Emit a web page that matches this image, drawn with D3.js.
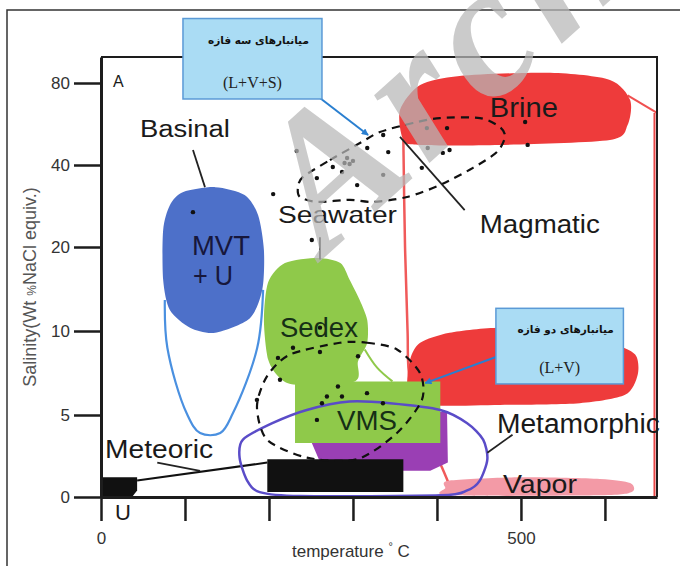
<!DOCTYPE html>
<html>
<head>
<meta charset="utf-8">
<script src="https://cdn.jsdelivr.net/npm/d3@7"></script>
<style>
  body { margin: 0; background: #fff; }
  svg { display: block; }
</style>
</head>
<body>
<svg id="chart" width="680" height="566"></svg>
<script>
// ---- axis ticks ----
const yTicks = [0, 5, 10, 20, 40, 80]
const xTicks = [0, 100, 200, 300, 400, 500, 600]
const xLabelled = [0, 500]

// ---- fluid fields, [temperature °C, salinity wt%] ----
const brine = [[380, 79], [427, 86.8], [535, 89.8], [606, 83], [630, 71.7], [627, 59.5], [606, 52.2], [475, 49.8], [380, 49.8], [360, 52.2], [356, 66.8]]
const brineTail = [[627, 74], [662, 65.4]]
const redBoundary = [[360, 52], [362, 20], [365, 10], [368, 7], [395, 3], [406, 1.8], [419, 0.2]]
const redRight = [[659, 65.4], [659, 0]]
const twoPhaseRed = [[368, 8.3], [380, 9.3], [415, 9.9], [475, 10.4], [546, 9.9], [606, 9.3], [636, 8.6], [639, 7.4], [624, 6.2], [570, 5.7], [475, 5.6], [380, 5.6], [365, 6.5]]
const vapor = [[415, 1.0], [499, 1.2], [594, 1.1], [630, 0.85], [632, 0.3], [594, 0.1], [415, 0.1], [410, 0.55]]
const mvt = [[98, 33.4], [136, 34.6], [171, 32.7], [187, 27.8], [194, 19.6], [192, 14.9], [177, 11.5], [136, 9.9], [106, 10.4], [82, 12.5], [74, 16.1], [74, 24.1], [82, 30.2]]
const basinOutline = [[76, 13.7], [79, 9.0], [102, 5.1], [118, 3.9], [142, 3.9], [157, 5.1], [186, 9.0], [193, 14.9]]
const purple = [[251, 3.3], [380, 3.3], [380, 5.2], [412, 5.2], [413, 2.1], [392, 1.6], [290, 1.6], [261, 2.1]]
const sedex = [[199, 15.8], [219, 18.1], [258, 18.7], [285, 18.1], [296, 16.1], [308, 13.7], [317, 11.3], [317, 9.3], [306, 8.2], [302, 7.0], [233, 6.8], [213, 7.2], [199, 8.3], [194, 11.3]]
const vms = [[231, 7.0], [404, 7.0], [404, 3.3], [231, 3.3]]
const sedexEdge = [[314, 8.9], [329, 7.8], [347, 7.0]]
const meteoricBar = [[198, 2.3], [360, 2.3], [360, 0.3], [198, 0.3]]
const meteoricLeft = [[0, 1.2], [43, 1.2], [43, 0.4], [37, 0], [0, 0]]
const meteoricLine = [[43, 1.0], [198, 2.1]]
const metamorphic = [[169, 3.5], [204, 4.5], [245, 5.3], [296, 5.8], [344, 5.7], [404, 5.3], [436, 4.5], [455, 3.5], [460, 2.3], [451, 1.0], [436, 0.4], [404, 0.1], [237, 0.06], [189, 0.3], [174, 1.0], [165, 2.4]]

// ---- inclusion groups (dashed) ----
const threePhase = [[240.5, 37.1], [272.6, 42.4], [308.3, 50.7], [332.1, 56.1], [371.4, 60.5], [403.6, 62.9], [451.2, 62.9], [475, 58.5], [481, 53.7], [471.4, 46.3], [442.9, 39.3], [403.6, 35.1], [364.3, 32.2], [323.8, 31.0], [296.4, 31.5], [257.1, 31.0], [236.9, 32.2], [234.5, 34.6]]
const twoPhase = [[284.5, 9.3], [316.7, 9.3], [352.4, 8.9], [379.8, 7.5], [382.1, 5.9], [352.4, 3.9], [304.8, 2.3], [245.2, 2.4], [197.6, 3.5], [185.7, 5.5], [197.6, 7.3], [225, 8.6]]

// ---- measured inclusions ----
const dotsUpper = [[233, 46.8], [205, 32.9], [257, 36.8], [276, 39.5], [287, 38.3], [293, 43.4], [296, 40.5], [300, 42], [290, 41], [317, 48.3], [336, 54.6], [342, 46.3], [305, 35.1], [336, 37.6], [251, 21.7], [388, 58.0], [412, 58.0], [505, 61.0], [508, 49.8], [389, 48.3], [407, 45.9], [415, 47.3], [382, 39.3], [109.5, 28.5]]
const dotsLower = [[228.6, 9.0], [260.7, 8.75], [210.7, 8.4], [306, 8.5], [213.1, 7.1], [185.7, 5.9], [282.1, 6.7], [269, 6.1], [286.9, 6.1], [263.1, 5.7], [316.7, 6.3], [335.7, 5.7], [257.1, 4.7], [260.7, 10.4]]

// ---- pointer lines ----
const pointers = [
  [[356, 53.7], [433, 29.0]],      // Magmatic
  [[109.5, 47.3], [123.8, 34.6]],  // Basinal
  [[260.7, 22.4], [260.7, 18.5]],  // Seawater
  [[490, 3.8], [460, 2.7]],        // Metamorphic
  [[67, 2.1], [118, 1.6]],         // Meteoric
]

const labels = [
  { text: 'A', t: 14.3, s: 78, size: 16 },
  { text: 'Basinal', t: 46.4, s: 53.7, size: 23, w: 90 },
  { text: 'MVT', t: 108.3, s: 19, size: 28, w: 58, color: '#17173c' },
  { text: '+ U', t: 109.5, s: 15.5, size: 28, w: 40, color: '#17173c' },
  { text: 'Seawater', t: 210.7, s: 25.9, size: 24, w: 119 },
  { text: 'Brine', t: 463, s: 63.4, size: 27, w: 68 },
  { text: 'Magmatic', t: 451, s: 23.4, size: 25, w: 120 },
  { text: 'Sedex', t: 213, s: 9.64, size: 27, w: 78, color: '#163016' },
  { text: 'VMS', t: 281, s: 4.09, size: 28, w: 60, color: '#163016' },
  { text: 'Metamorphic', t: 471.4, s: 3.9, size: 27, w: 163 },
  { text: 'Vapor', t: 478.6, s: 0.25, size: 26, w: 74 },
  { text: 'Meteoric', t: 4.8, s: 2.4, size: 26, w: 108 },
]

const boxes = [
  { fa: 'میانبارهای سه فازه', en: '(L+V+S)', t0: 97.6, t1: 263.1, s0: 142, s1: 72.2, from: [260.7, 72.7], to: [318, 54.6] },
  { fa: 'میانبارهای دو  فازه', en: '(L+V)', t0: 470.2, t1: 622, s0: 12.7, s1: 6.85, from: [470.2, 8.45], to: [386, 6.9] },
]

// ---- scales ----
const x = d3.scaleLinear().domain([0, 662]).range([101, 657])
const y = d3.scaleLinear().domain([0, 5, 10, 20, 40, 80, 105]).range([497, 415, 331, 247, 165, 83, 57])

const svg = d3.select('#chart')
const font = '"Liberation Sans", Arial, sans-serif'

svg.append('defs').append('marker')
  .attr('id', 'arrow')
  .attr('viewBox', '0 0 10 10')
  .attr('refX', 9).attr('refY', 5)
  .attr('markerWidth', 7).attr('markerHeight', 7)
  .attr('markerUnits', 'userSpaceOnUse')
  .attr('orient', 'auto')
  .append('path').attr('d', 'M0,0L10,5L0,10z').attr('fill', '#2a7fd0')

// outer border
svg.append('rect')
  .attr('x', 7).attr('y', 10).attr('width', 700).attr('height', 600)
  .attr('fill', 'none').attr('stroke', '#333').attr('stroke-width', 1.5)

const blob = d3.line().x(d => x(d[0])).y(d => y(d[1])).curve(d3.curveCardinalClosed.tension(0.2))
const poly = d3.line().x(d => x(d[0])).y(d => y(d[1])).curve(d3.curveLinearClosed)
const smooth = d3.line().x(d => x(d[0])).y(d => y(d[1])).curve(d3.curveCatmullRom)
const straight = d3.line().x(d => x(d[0])).y(d => y(d[1]))

const g = svg.append('g').attr('id', 'fields')

// red phase boundary lines
g.append('path').attr('d', smooth(redBoundary)).attr('fill', 'none').attr('stroke', '#f05a5a').attr('stroke-width', 2.5)
g.append('path').attr('d', straight(redRight)).attr('fill', 'none').attr('stroke', '#e84848').attr('stroke-width', 2)
g.append('path').attr('d', straight(brineTail)).attr('fill', 'none').attr('stroke', '#f05050').attr('stroke-width', 2)

g.append('path').attr('d', blob(brine)).attr('fill', '#ee3b3b')
g.append('path').attr('d', blob(twoPhaseRed)).attr('fill', '#ee3b3b')
g.append('path').attr('d', blob(vapor)).attr('fill', '#f39aa6')

// basinal
g.append('path').attr('d', smooth(basinOutline)).attr('fill', 'none').attr('stroke', '#4a90e0').attr('stroke-width', 2.2)
g.append('path').attr('d', blob(mvt)).attr('fill', '#4d70c9')

// VMS / Sedex
g.append('path').attr('d', poly(purple)).attr('fill', '#9a3fb4')
g.append('path').attr('d', blob(sedex)).attr('fill', '#8fc94a')
g.append('path').attr('d', poly(vms)).attr('fill', '#8fc94a')
g.append('path').attr('d', smooth(sedexEdge)).attr('fill', 'none').attr('stroke', '#8fc94a').attr('stroke-width', 2)

// meteoric
g.append('path').attr('d', poly(meteoricBar)).attr('fill', '#111')
g.append('path').attr('d', poly(meteoricLeft)).attr('fill', '#111')
g.append('path').attr('d', straight(meteoricLine)).attr('fill', 'none').attr('stroke', '#111').attr('stroke-width', 2)

// metamorphic outline
g.append('path').attr('d', blob(metamorphic)).attr('fill', 'none').attr('stroke', '#5a4cc8').attr('stroke-width', 2.5)

// dashed groups
g.selectAll('.group').data([threePhase, twoPhase]).join('path')
  .attr('class', 'group')
  .attr('d', d => blob(d))
  .attr('fill', 'none').attr('stroke', '#111').attr('stroke-width', 2.2).attr('stroke-dasharray', '8,6')

// dots
g.selectAll('.dot').data(dotsUpper.concat(dotsLower)).join('circle')
  .attr('class', 'dot')
  .attr('cx', d => x(d[0])).attr('cy', d => y(d[1])).attr('r', 2.2).attr('fill', '#111')

// pointers
g.selectAll('.pointer').data(pointers).join('path')
  .attr('class', 'pointer')
  .attr('d', d => straight(d))
  .attr('fill', 'none').attr('stroke', '#222').attr('stroke-width', 1.8)

// region labels
g.selectAll('.lab').data(labels).join('text')
  .attr('class', 'lab')
  .attr('x', d => x(d.t)).attr('y', d => y(d.s))
  .attr('font-family', font).attr('font-size', d => d.size)
  .attr('fill', d => d.color || '#1a1a1a')
  .attr('textLength', d => d.w || null)
  .attr('lengthAdjust', 'spacingAndGlyphs')
  .text(d => d.text)

// "U" below the axis
svg.append('text')
  .attr('x', x(16.7)).attr('y', y(0) + 23)
  .attr('font-family', font).attr('font-size', 22).attr('fill', '#1a1a1a')
  .text('U')

// ---- axes ----
const yAxis = svg.append('g')
  .attr('transform', `translate(${x(0)},0)`)
  .call(d3.axisLeft(y).tickValues(yTicks).tickSize(27).tickPadding(4).tickSizeOuter(0))
const xAxis = svg.append('g')
  .attr('transform', `translate(0,${y(0)})`)
  .call(d3.axisBottom(x).tickValues(xTicks).tickSize(24).tickPadding(11).tickSizeOuter(0)
    .tickFormat(d => xLabelled.includes(d) ? d : ''))

;[yAxis, xAxis].forEach(a => {
  a.select('.domain').attr('stroke', '#1d1d1d').attr('stroke-width', 3)
  a.selectAll('.tick line').attr('stroke', '#1d1d1d').attr('stroke-width', 2.5)
  a.selectAll('.tick text').attr('font-family', font).attr('font-size', 17).attr('fill', '#333')
})

// top and right frame
svg.append('path')
  .attr('d', `M${x(0)},${y(105)}H${x(662)}V${y(0)}`)
  .attr('fill', 'none').attr('stroke', '#1d1d1d').attr('stroke-width', 2)

// axis titles
svg.append('text')
  .attr('transform', `translate(36,${(y(0) + y(80)) / 2 - 3}) rotate(-90)`)
  .attr('text-anchor', 'middle')
  .attr('font-family', font).attr('font-size', 18).attr('fill', '#555')
  .call(t => {
    t.append('tspan').text('Salinity(Wt ')
    t.append('tspan').attr('font-size', 12).text('%')
    t.append('tspan').text('NaCl equiv.)')
  })

svg.append('text')
  .attr('x', 292).attr('y', 557)
  .attr('font-family', font).attr('font-size', 17).attr('fill', '#333')
  .call(t => {
    t.append('tspan').text('temperature ')
    t.append('tspan').attr('font-size', 11).attr('dy', -7).text('°')
    t.append('tspan').attr('dy', 7).text(' C')
  })

// watermark (under the call-out boxes)
svg.append('text')
  .attr('transform', 'translate(325,257) rotate(-42)')
  .attr('font-family', '"Liberation Serif", serif').attr('font-weight', 'bold').attr('font-style', 'italic')
  .attr('font-size', 190).attr('letter-spacing', 10)
  .attr('fill', '#b8b8b8').attr('opacity', 0.72)
  .text('Arch')

// ---- annotation boxes ----
const box = svg.selectAll('.box').data(boxes).join('g').attr('class', 'box')
box.append('path')
  .attr('d', d => straight([d.from, d.to]))
  .attr('stroke', '#2a7fd0').attr('stroke-width', 2).attr('marker-end', 'url(#arrow)')
box.append('rect')
  .attr('x', d => x(d.t0)).attr('y', d => y(d.s0))
  .attr('width', d => x(d.t1) - x(d.t0)).attr('height', d => y(d.s1) - y(d.s0))
  .attr('fill', '#aadcf4').attr('stroke', '#5b9ad6').attr('stroke-width', 1.5)
box.append('text')
  .attr('x', d => (x(d.t0) + x(d.t1)) / 2 + 6)
  .attr('y', d => y(d.s0) + 0.32 * (y(d.s1) - y(d.s0)))
  .attr('text-anchor', 'middle')
  .attr('font-family', '"DejaVu Sans", sans-serif').attr('font-weight', 'bold').attr('font-size', 10.5)
  .attr('fill', '#111')
  .text(d => d.fa)
box.append('text')
  .attr('x', d => (x(d.t0) + x(d.t1)) / 2)
  .attr('y', d => y(d.s0) + 0.86 * (y(d.s1) - y(d.s0)))
  .attr('text-anchor', 'middle')
  .attr('font-family', '"Liberation Serif", serif').attr('font-size', 16)
  .attr('fill', '#222')
  .text(d => d.en)
</script>
</body>
</html>
